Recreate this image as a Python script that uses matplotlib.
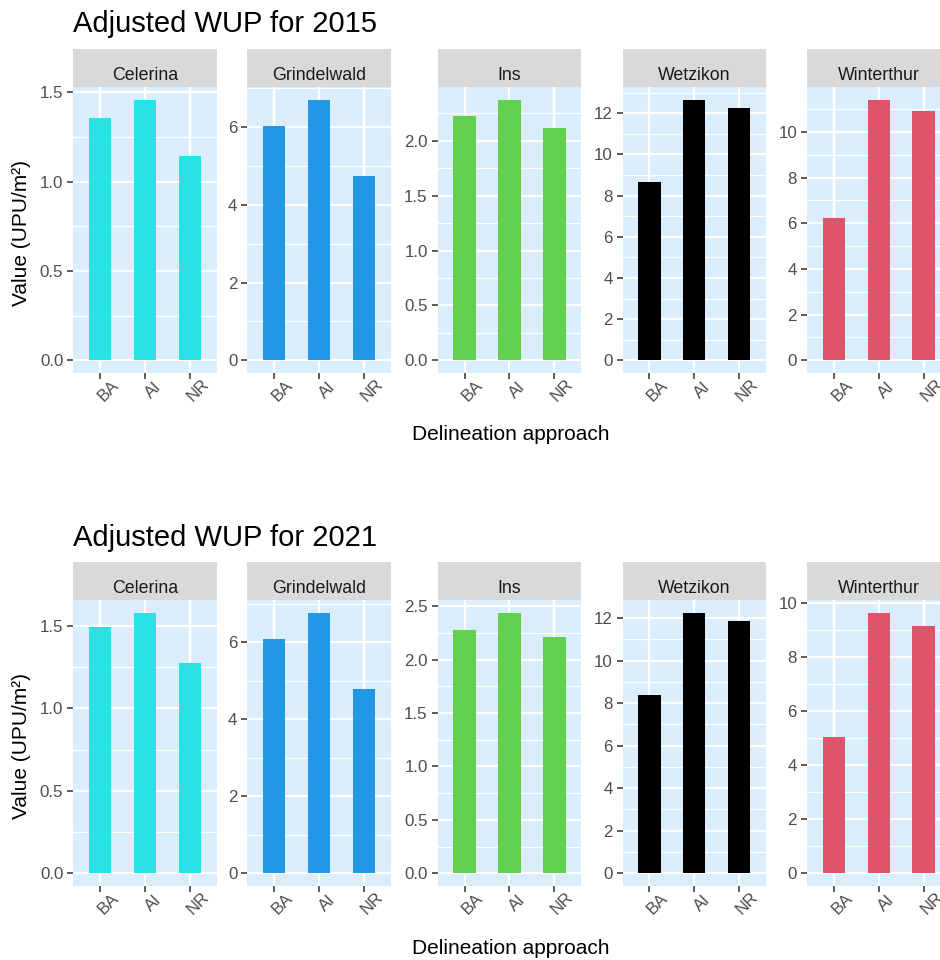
import matplotlib
matplotlib.use("Agg")
import matplotlib.pyplot as plt
from matplotlib.ticker import MultipleLocator, FormatStrFormatter, FixedLocator
from matplotlib.transforms import ScaledTranslation

plt.rcParams['font.family'] = ['Liberation Sans', 'DejaVu Sans']

# ---- data -------------------------------------------------------------
cities = ["Celerina", "Grindelwald", "Ins", "Wetzikon", "Winterthur"]
approaches = ["BA", "AI", "NR"]
city_colors = ["#28E2E5", "#2297E6", "#61D04F", "#000000", "#DF536B"]
years = [2015, 2021]

# adjusted WUP per city, one list per delineation approach
wup_2015_ba = [1.354, 6.03, 2.223, 8.64, 6.24]
wup_2015_ai = [1.455, 6.69, 2.370, 12.63, 11.38]
wup_2015_nr = [1.141, 4.75, 2.113, 12.24, 10.90]

wup_2021_ba = [1.492, 6.08, 2.281, 8.37, 5.04]
wup_2021_ai = [1.576, 6.75, 2.433, 12.22, 9.61]
wup_2021_nr = [1.274, 4.78, 2.207, 11.84, 9.15]

# y-axis break spacing per city panel
y_steps = [0.5, 2, 0.5, 2, 2]

# ---- layout (pixels) --------------------------------------------------
W, H = 940, 960
fig = plt.figure(figsize=(W / 100, H / 100), dpi=100)

panel_left = [73.3, 247.3, 437.7, 622.5, 807.0]
panel_w = 143.5
strip_h = 38
panel_h = 286
row_top = [49.3, 562.3]
title_base = [32, 546]
xlab_base = [440, 954]
ylab_center = [233, 746]

panel_bg = "#DAEDFC"
strip_bg = "#D9D9D9"
tick_col = "#333333"
ticklab_col = "#4D4D4D"


def px_axes(left, top, width, height):
    return fig.add_axes([left / W, 1 - (top + height) / H, width / W, height / H])


rows = [
    (wup_2015_ba, wup_2015_ai, wup_2015_nr),
    (wup_2021_ba, wup_2021_ai, wup_2021_nr),
]

for r, (ba, ai, nr) in enumerate(rows):
    top = row_top[r]
    fig.text(73 / W, 1 - title_base[r] / H, f"Adjusted WUP for {years[r]}",
             fontsize=21, color="black", ha="left", va="baseline")
    fig.text(511 / W, 1 - xlab_base[r] / H, "Delineation approach",
             fontsize=15, color="black", ha="center", va="baseline")
    fig.text(22 / W, 1 - ylab_center[r] / H, "Value (UPU/m²)",
             fontsize=15, color="black", ha="center", va="center", rotation=90)

    for i, city in enumerate(cities):
        vals = [ba[i], ai[i], nr[i]]
        vmax = max(vals)

        # facet strip
        st = px_axes(panel_left[i], top, panel_w, strip_h)
        st.set_facecolor(strip_bg)
        st.set_xticks([])
        st.set_yticks([])
        for s in st.spines.values():
            s.set_visible(False)
        st.text(0.5, 1 - 30.5 / strip_h, city, transform=st.transAxes,
                ha="center", va="baseline", fontsize=12.8, color="#1A1A1A")

        # panel
        ax = px_axes(panel_left[i], top + strip_h, panel_w, panel_h)
        ax.set_facecolor(panel_bg)
        for s in ax.spines.values():
            s.set_visible(False)
        xs = list(range(len(approaches)))
        ax.bar(xs, vals, width=0.5, color=city_colors[i], zorder=3)
        ax.set_xlim(-0.6, len(approaches) - 0.4)
        ax.set_ylim(-0.05 * vmax, 1.05 * vmax)

        step = y_steps[i]
        ax.yaxis.set_major_locator(MultipleLocator(step))
        ax.yaxis.set_minor_locator(MultipleLocator(step / 2))
        ax.yaxis.set_major_formatter(FormatStrFormatter("%.1f" if step < 1 else "%d"))
        ax.xaxis.set_major_locator(FixedLocator(xs))
        ax.set_xticklabels(approaches, rotation=45, ha="center", va="center")

        ax.grid(which="major", color="white", linewidth=1.6, zorder=0)
        ax.grid(which="minor", axis="y", color="white", linewidth=0.85, zorder=0)
        ax.set_axisbelow(True)

        ax.tick_params(axis="both", which="major", length=4, width=1.1,
                       color=tick_col, labelcolor=ticklab_col, labelsize=12.2)
        ax.tick_params(axis="y", which="major", pad=3.2)
        ax.tick_params(axis="x", which="major", pad=8.5)
        ax.tick_params(which="minor", length=0)

        shift = ScaledTranslation(8 / 100, 0, fig.dpi_scale_trans)
        for lab in ax.get_xticklabels():
            lab.set_transform(lab.get_transform() + shift)

fig.savefig("out.png", dpi=100, facecolor="white")
